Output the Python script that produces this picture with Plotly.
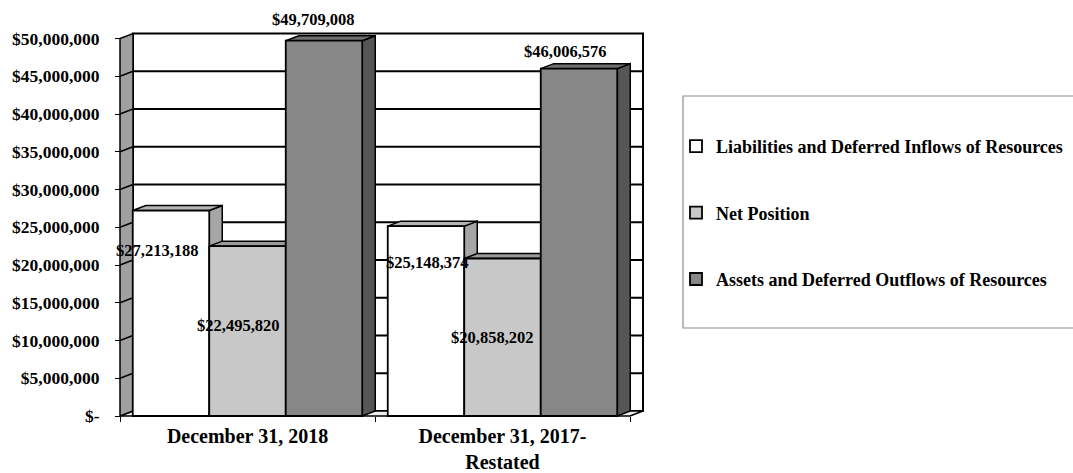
import plotly.graph_objects as go

# ---------------- data ----------------
categories = ["December 31, 2018", "December 31, 2017-<br>Restated"]
series_names = [
    "Liabilities and Deferred Inflows of Resources",
    "Net Position",
    "Assets and Deferred Outflows of Resources",
]
liabilities = [27213188, 25148374]
net_position = [22495820, 20858202]
assets = [49709008, 46006576]
tick_vals = [0, 5e6, 10e6, 15e6, 20e6, 25e6, 30e6, 35e6, 40e6, 45e6, 50e6]
tick_text = ["$-", "$5,000,000", "$10,000,000", "$15,000,000", "$20,000,000",
             "$25,000,000", "$30,000,000", "$35,000,000", "$40,000,000",
             "$45,000,000", "$50,000,000"]
value_labels = [["$27,213,188", "$25,148,374"],
                ["$22,495,820", "$20,858,202"],
                ["$49,709,008", "$46,006,576"]]

# ---------------- styles / geometry ----------------
W, H = 1073, 473
FONT = "Liberation Serif"
face_colors = ["#FFFFFF", "#C8C8C8", "#878787"]
side_colors = ["#A6A6A6", "#A0A0A0", "#565656"]
top_colors = ["#B4B4B4", "#9A9A9A", "#6E6E6E"]

FX0, FX1 = 120.0, 630.0          # front plane pixels for category -0.5 and 1.5
PXC = (FX1 - FX0) / 2.0          # pixels per category
FY0 = 416.0                      # pixel of value 0 on front plane
PXM = 7.55 / 1e6                 # pixels per unit value
DEP_X, DEP_Y = 13.0, 5.0         # 3D depth offset in pixels
PX0, PX1, PY0, PY1 = 108.0, 658.0, 22.0, 428.0   # plot area pixels

xr = [-0.5 - (FX0 - PX0) / PXC, 1.5 + (PX1 - FX1) / PXC]
yr = [-(PY1 - FY0) / PXM, (FY0 - PY0) / PXM]
DXD = DEP_X / PXC
DYD = DEP_Y / PXM
TOP = tick_vals[-1]

bar_w = 0.3
offsets = [-0.45, -0.15, 0.15]

series = [liabilities, net_position, assets]

fig = go.Figure()
for k, (name, vals) in enumerate(zip(series_names, series)):
    fig.add_trace(go.Bar(
        x=categories, y=vals, name=name,
        width=bar_w, offset=offsets[k],
        marker=dict(color=face_colors[k], line=dict(color="black", width=1.8)),
        legendgroup=f"g{k}",
        hoverinfo="skip",
    ))

shapes = []
def poly(pts, fill, lw=1.5, layer="below"):
    d = "M " + " L ".join(f"{x},{y}" for x, y in pts) + " Z"
    return dict(type="path", path=d, fillcolor=fill, xref="x", yref="y",
                line=dict(color="black", width=lw), layer=layer)

# back wall
shapes.append(poly([(-0.5 + DXD, DYD), (1.5 + DXD, DYD), (1.5 + DXD, TOP + DYD),
                    (-0.5 + DXD, TOP + DYD)], "white", lw=2))
# floor
shapes.append(poly([(-0.5, 0), (1.5, 0), (1.5 + DXD, DYD), (-0.5 + DXD, DYD)],
                   "#EEEEEE", lw=1.5))
# left wall
shapes.append(poly([(-0.5, 0), (-0.5 + DXD, DYD), (-0.5 + DXD, TOP + DYD), (-0.5, TOP)],
                   "#A0A0A0", lw=1.5))
# gridlines on back wall and left wall
for v in tick_vals[1:-1]:
    shapes.append(dict(type="line", xref="x", yref="y", x0=-0.5 + DXD, x1=1.5 + DXD,
                       y0=v + DYD, y1=v + DYD, line=dict(color="black", width=2),
                       layer="below"))
    shapes.append(dict(type="line", xref="x", yref="y", x0=-0.5, x1=-0.5 + DXD,
                       y0=v, y1=v + DYD, line=dict(color="black", width=1.5),
                       layer="below"))
# bar side and top faces
for i in range(len(categories)):
    for k, vals in enumerate(series):
        v = vals[i]
        xl = i + offsets[k]
        xrr = xl + bar_w
        shapes.append(poly([(xrr, 0), (xrr + DXD, DYD), (xrr + DXD, v + DYD), (xrr, v)],
                           side_colors[k], lw=1.5))
        shapes.append(poly([(xl, v), (xrr, v), (xrr + DXD, v + DYD), (xl + DXD, v + DYD)],
                           top_colors[k], lw=1.5))

# legend frame (paper coordinates = figure pixels because margins are 0)
shapes.append(dict(type="rect", xref="paper", yref="paper",
                   x0=683 / W, x1=1080 / W, y0=1 - 328 / H, y1=1 - 96 / H,
                   line=dict(color="#8C8C8C", width=1.2), fillcolor="rgba(0,0,0,0)"))

# value label annotations (pixel shifts relative to bar top centre)
label_shift = [[(-14, -40), (1, -36)],
               [(-9.5, -79), (-10.5, -78.5)],
               [(-11, 21), (-14, 17.5)]]
annotations = []
for k, vals in enumerate(series):
    for i, v in enumerate(vals):
        sx, sy = label_shift[k][i]
        annotations.append(dict(
            x=i + offsets[k] + bar_w / 2, y=v, xref="x", yref="y",
            text=value_labels[k][i], showarrow=False,
            xshift=sx, yshift=sy,
            font=dict(family=FONT, size=16.5, color="black", weight="bold"),
        ))

fig.update_layout(
    width=W, height=H,
    margin=dict(l=0, r=0, t=0, b=0),
    paper_bgcolor="white", plot_bgcolor="rgba(0,0,0,0)",
    font=dict(family=FONT, color="black", weight="bold"),
    barmode="group",
    shapes=shapes,
    annotations=annotations,
    showlegend=True,
    legend=dict(
        x=676 / W, y=1 - 128 / H, xanchor="left", yanchor="top",
        bgcolor="rgba(0,0,0,0)", borderwidth=0,
        font=dict(family=FONT, size=18, color="black", weight="bold"),
        traceorder="grouped", tracegroupgap=40,
        itemclick=False, itemdoubleclick=False,
    ),
    xaxis=dict(
        domain=[PX0 / W, PX1 / W], range=xr, type="category",
        anchor="free", position=1 - FY0 / H,
        showline=False, showgrid=False, zeroline=False,
        ticks="outside", tickson="boundaries", ticklen=5, tickcolor="black", tickwidth=1,
        ticklabelstandoff=6,
        tickfont=dict(family=FONT, size=20, color="black", weight="bold"),
        fixedrange=True,
    ),
    yaxis=dict(
        domain=[1 - PY1 / H, 1 - PY0 / H], range=yr,
        anchor="free", position=FX0 / W,
        tickvals=tick_vals, ticktext=tick_text,
        showline=False, showgrid=False, zeroline=False,
        ticks="outside", ticklen=5, tickcolor="black", tickwidth=1,
        ticklabelstandoff=12,
        tickfont=dict(family=FONT, size=17.5, color="black", weight="bold"),
        fixedrange=True,
    ),
)

fig.write_html("out.html", config={"displayModeBar": False},
               post_script="document.body.style.margin='0';")
